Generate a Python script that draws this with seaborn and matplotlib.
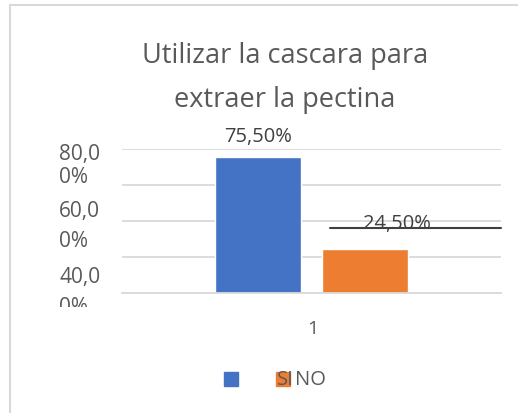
import matplotlib
matplotlib.use("Agg")
import matplotlib.pyplot as plt
import seaborn as sns
import pandas as pd
from matplotlib.patches import Rectangle
from matplotlib.lines import Line2D
from matplotlib.transforms import Bbox

# Data
categories = ["1"]
series = ["SI", "NO"]
values = [75.5, 24.5]
value_labels = ["75,50%", "24,50%"]
ytick_labels = [("80,0", "0%"), ("60,0", "0%"), ("40,0", "0%")]
colors = ["#4472C4", "#ED7D31"]
title_lines = ["Utilizar la cascara para", "extraer la pectina"]

W, H = 518, 413
TXT = "#595959"

sns.set_style("white")
plt.rcParams["font.family"] = ["Open Sans", "DejaVu Sans"]


def px(x, y):
    return x / W, 1 - y / H


df = pd.DataFrame({"cat": categories * len(series), "serie": series, "val": values})

fig = plt.figure(figsize=(W / 100, H / 100), dpi=100)
ax = fig.add_axes([122 / W, 1 - 293 / H, (501 - 122) / W, (293 - 149) / H])

sns.barplot(data=df, x="cat", y="val", hue="serie", palette=colors, saturation=1,
            width=0.565, gap=0.2, legend=False, ax=ax)

ax.set_ylim(0, 80)
ax.set_xlim(-0.5, 0.5)
ax.set_yticks([0, 20, 40, 60, 80])
ax.yaxis.grid(True, color="#d9d9d9", linewidth=1.3)
ax.set_axisbelow(True)
ax.tick_params(left=False, bottom=False, labelleft=False, labelbottom=False)
for s in ["top", "right", "left"]:
    ax.spines[s].set_visible(False)
ax.spines["bottom"].set_color("#d9d9d9")
ax.spines["bottom"].set_linewidth(1.3)
ax.set_xlabel("")
ax.set_ylabel("")

# value labels
bars = ax.patches
b0 = bars[0]
ax.annotate(value_labels[0], (b0.get_x() + b0.get_width() / 2, b0.get_height()),
            xytext=(0, 7), textcoords="offset points", ha="center", va="bottom",
            fontsize=14.5, color="#404040")
b1 = bars[1]
ax.annotate(value_labels[1], (b1.get_x() + b1.get_width() / 2, b1.get_height()),
            xytext=(23, 11), textcoords="offset points", ha="center", va="bottom",
            fontsize=14.5, color="#404040")
# stray leader line through the second label
fig.add_artist(Line2D([330 / W, 501 / W], [1 - 228 / H, 1 - 228 / H],
                      color="#404040", linewidth=1.5))

# category label
fig.text(*px(313, 334), categories[0], ha="center", va="baseline",
         fontsize=14, color=TXT)

# title
fig.text(*px(285, 63), title_lines[0], ha="center", va="baseline", fontsize=19.5, color=TXT)
fig.text(*px(285, 107), title_lines[1], ha="center", va="baseline", fontsize=19.5, color=TXT)

# wrapped y tick labels, clipped at the plot bottom
clip = Bbox([[0, H - 307], [W, H]])
baselines = [(160, 183), (217, 247), (283, 313)]
for (a, b), (y1, y2) in zip(ytick_labels, baselines):
    for txt, y in ((a, y1), (b, y2)):
        t = fig.text(*px(59, y), txt, ha="left", va="baseline", fontsize=15, color=TXT)
        t.set_clip_box(clip)
        t.set_clip_on(True)

# legend (as drawn in the original, SI label over the orange key)
fig.add_artist(Rectangle(px(224, 386), 14 / W, 14 / H, color=colors[0], transform=fig.transFigure))
fig.add_artist(Rectangle(px(276, 386), 14 / W, 14 / H, color=colors[1], transform=fig.transFigure))
fig.text(*px(277, 385), series[0], ha="left", va="baseline", fontsize=14.5, color=TXT)
fig.text(*px(295, 385), series[1], ha="left", va="baseline", fontsize=14.5, color=TXT)

# chart border
fig.add_artist(Line2D([10 / W, 10 / W], [0, 1 - 5 / H], color="#d9d9d9", linewidth=1.5))
fig.add_artist(Line2D([10 / W, 1], [1 - 5 / H, 1 - 5 / H], color="#d9d9d9", linewidth=1.5))

fig.savefig("out.png", dpi=100)
